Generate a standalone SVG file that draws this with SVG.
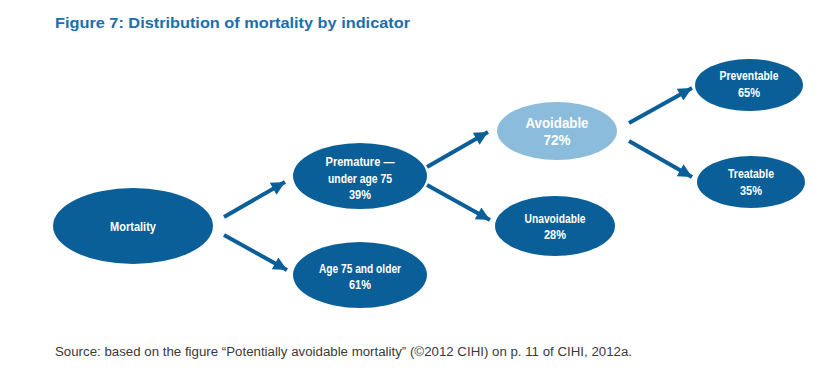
<svg xmlns="http://www.w3.org/2000/svg" width="826" height="371" viewBox="0 0 826 371">
<defs>
<marker id="ah" viewBox="0 0 10 10" refX="10" refY="5" markerWidth="4.2" markerHeight="3.4" orient="auto" markerUnits="strokeWidth">
<path d="M0,0 L10,5 L0,10 Z" fill="#0b5f99"/>
</marker>
</defs>
<style>
.n{fill:#0b5f99}
.l{fill:#8bbcdc}
.t{fill:#fff;font-family:"Liberation Sans",Arial,sans-serif;font-weight:bold;font-size:13.5px;text-anchor:middle}
.big{font-size:15.5px}
.c{stroke:#0b5f99;stroke-width:4;fill:none;marker-end:url(#ah)}
</style>
<rect width="826" height="371" fill="#fff"/>
<text x="55" y="28" font-family="Liberation Sans,Arial,sans-serif" font-weight="bold" font-size="15.5" fill="#1a6fad" textLength="355" lengthAdjust="spacingAndGlyphs">Figure 7: Distribution of mortality by indicator</text>
<g id="connectors">
<line class="c" x1="224" y1="217" x2="285" y2="182"/>
<line class="c" x1="224" y1="235" x2="287" y2="270"/>
<line class="c" x1="427" y1="167" x2="488" y2="132"/>
<line class="c" x1="427" y1="185" x2="490" y2="220"/>
<line class="c" x1="629" y1="123" x2="692" y2="88"/>
<line class="c" x1="629" y1="141" x2="692" y2="177"/>
</g>
<g id="mortality"><ellipse class="n" cx="133" cy="226" rx="80" ry="38"/><text class="t" x="133" y="231" textLength="46" lengthAdjust="spacingAndGlyphs">Mortality</text></g>
<g id="premature"><ellipse class="n" cx="360" cy="176" rx="67" ry="33"/><text class="t" x="360" y="166" textLength="69" lengthAdjust="spacingAndGlyphs">Premature —</text><text class="t" x="360" y="183" textLength="64" lengthAdjust="spacingAndGlyphs">under age 75</text><text class="t" x="360" y="199" textLength="22" lengthAdjust="spacingAndGlyphs">39%</text></g>
<g id="older"><ellipse class="n" cx="360" cy="275" rx="67" ry="33"/><text class="t" x="360" y="273" textLength="82" lengthAdjust="spacingAndGlyphs">Age 75 and older</text><text class="t" x="360" y="289" textLength="22" lengthAdjust="spacingAndGlyphs">61%</text></g>
<g id="avoidable"><ellipse class="l" cx="557" cy="131" rx="60" ry="29"/><text class="t big" x="557" y="128" textLength="63" lengthAdjust="spacingAndGlyphs">Avoidable</text><text class="t big" x="557" y="145" textLength="27" lengthAdjust="spacingAndGlyphs">72%</text></g>
<g id="unavoidable"><ellipse class="n" cx="555" cy="226" rx="60" ry="30"/><text class="t" x="555" y="223" textLength="61" lengthAdjust="spacingAndGlyphs">Unavoidable</text><text class="t" x="555" y="239" textLength="22" lengthAdjust="spacingAndGlyphs">28%</text></g>
<g id="preventable"><ellipse class="n" cx="749" cy="85" rx="54" ry="26"/><text class="t" x="749" y="80" textLength="59" lengthAdjust="spacingAndGlyphs">Preventable</text><text class="t" x="749" y="97" textLength="22" lengthAdjust="spacingAndGlyphs">65%</text></g>
<g id="treatable"><ellipse class="n" cx="751" cy="182" rx="54" ry="26"/><text class="t" x="751" y="178" textLength="46" lengthAdjust="spacingAndGlyphs">Treatable</text><text class="t" x="751" y="195" textLength="22" lengthAdjust="spacingAndGlyphs">35%</text></g>
<text x="55" y="356" font-family="Liberation Sans,Arial,sans-serif" font-size="12.5" fill="#3a3a3a" textLength="577" lengthAdjust="spacingAndGlyphs">Source: based on the figure “Potentially avoidable mortality” (©2012 CIHI) on p. 11 of CIHI, 2012a.</text>
</svg>
